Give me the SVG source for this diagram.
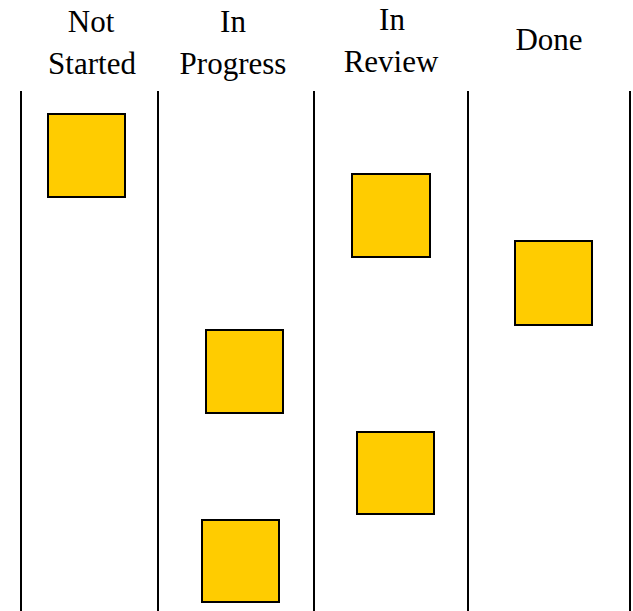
<svg xmlns="http://www.w3.org/2000/svg" width="633" height="611" viewBox="0 0 633 611">
<rect width="633" height="611" fill="#fff"/>
<g id="lanes" stroke="#000" stroke-width="2" fill="none">
<line x1="21" y1="91" x2="21" y2="611"/>
<line x1="158" y1="91" x2="158" y2="611"/>
<line x1="314" y1="91" x2="314" y2="611"/>
<line x1="468" y1="91" x2="468" y2="611"/>
<line x1="630" y1="91" x2="630" y2="611"/>
</g>
<g id="headers" fill="#000" text-anchor="middle">
<g id="header-not-started"><text x="91" y="32" font-family="Liberation Serif" font-size="31">Not</text><text x="92" y="74" font-family="Liberation Serif" font-size="31">Started</text></g>
<g id="header-in-progress"><text x="233" y="32" font-family="Liberation Serif" font-size="31">In</text><text x="233" y="74" font-family="Liberation Serif" font-size="31">Progress</text></g>
<g id="header-in-review"><text x="392" y="30" font-family="Liberation Serif" font-size="31">In</text><text x="391" y="72" font-family="Liberation Serif" font-size="31">Review</text></g>
<g id="header-done"><text x="549" y="50" font-family="Liberation Serif" font-size="31">Done</text></g>
</g>
<g id="cards" fill="#FFCC00" stroke="#000" stroke-width="2">
<g id="card1"><rect x="48" y="114" width="77" height="83"/></g>
<g id="card2"><rect x="206" y="330" width="77" height="83"/></g>
<g id="card3"><rect x="202" y="520" width="77" height="82"/></g>
<g id="card4"><rect x="352" y="174" width="78" height="83"/></g>
<g id="card5"><rect x="357" y="432" width="77" height="82"/></g>
<g id="card6"><rect x="515" y="241" width="77" height="84"/></g>
</g>
</svg>
